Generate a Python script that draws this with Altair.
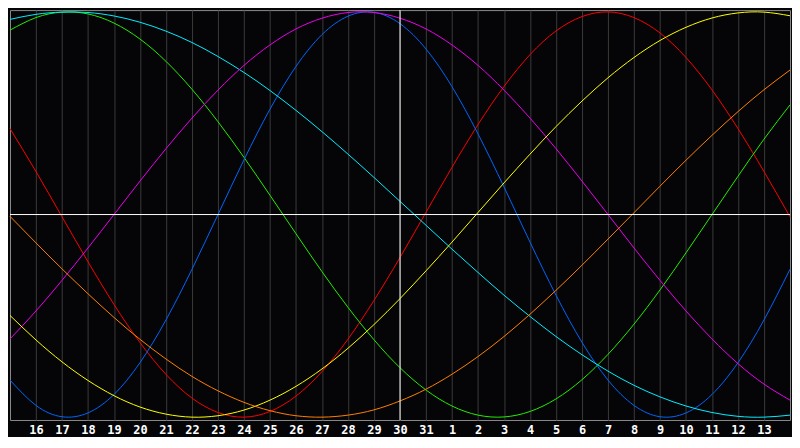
import pandas as pd
import altair as alt

# Day labels under the gridlines (day index 1..29)
day_labels = [16, 17, 18, 19, 20, 21, 22, 23, 24, 25, 26, 27, 28, 29, 30, 31,
              1, 2, 3, 4, 5, 6, 7, 8, 9, 10, 11, 12, 13]

# Day index 0..30 across the plot (day 15 .. day 14 of next month)
days = list(range(31))

# Curve values, one per day (-1 .. 1)
red = [0.424, 0.212, -0.011, -0.233, -0.444, -0.632, -0.789, -0.906, -0.977, -1.0,
       -0.972, -0.896, -0.775, -0.615, -0.424, -0.212, 0.011, 0.233, 0.444, 0.632,
       0.789, 0.906, 0.977, 1.0, 0.972, 0.896, 0.775, 0.615, 0.424, 0.212, -0.011]
green = [0.91, 0.972, 0.999, 0.99, 0.945, 0.866, 0.756, 0.618, 0.458, 0.282,
         0.095, -0.095, -0.282, -0.458, -0.618, -0.756, -0.866, -0.945, -0.99, -0.999,
         -0.972, -0.91, -0.815, -0.69, -0.541, -0.372, -0.189, 0.0, 0.189, 0.372, 0.541]
blue = [-0.817, -0.942, -0.998, -0.979, -0.888, -0.731, -0.52, -0.27, 0.0, 0.27,
        0.52, 0.731, 0.888, 0.979, 0.998, 0.942, 0.817, 0.631, 0.398, 0.136,
        -0.136, -0.398, -0.631, -0.817, -0.942, -0.998, -0.979, -0.888, -0.731, -0.52, -0.27]
cyan = [0.963, 0.988, 0.999, 0.997, 0.98, 0.949, 0.905, 0.849, 0.78, 0.701,
        0.612, 0.514, 0.409, 0.298, 0.183, 0.065, -0.053, -0.171, -0.286, -0.398,
        -0.503, -0.602, -0.692, -0.773, -0.843, -0.9, -0.945, -0.977, -0.996, -1.0, -0.99]
magenta = [-0.614, -0.476, -0.325, -0.165, 0.0, 0.165, 0.325, 0.476, 0.614, 0.736,
           0.837, 0.916, 0.969, 0.997, 0.997, 0.969, 0.916, 0.837, 0.736, 0.614,
           0.476, 0.325, 0.165, 0.0, -0.165, -0.325, -0.476, -0.614, -0.736, -0.837, -0.916]
yellow = [-0.498, -0.619, -0.727, -0.819, -0.894, -0.95, -0.985, -1.0, -0.993, -0.965,
          -0.916, -0.848, -0.762, -0.66, -0.543, -0.415, -0.278, -0.136, 0.01, 0.156,
          0.298, 0.434, 0.56, 0.675, 0.775, 0.859, 0.924, 0.97, 0.995, 0.999, 0.981]
orange = [-0.009, -0.14, -0.268, -0.391, -0.508, -0.616, -0.713, -0.799, -0.87, -0.927,
          -0.968, -0.993, -1.0, -0.99, -0.964, -0.92, -0.862, -0.788, -0.701, -0.602,
          -0.492, -0.374, -0.25, -0.121, 0.009, 0.14, 0.268, 0.391, 0.508, 0.616, 0.713]

series = {
    "red": red, "green": green, "blue": blue, "cyan": cyan,
    "magenta": magenta, "yellow": yellow, "orange": orange,
}
colors = ["#ff0000", "#22ee00", "#0066ff", "#00eeff", "#ee00ee", "#ffff00", "#ff8000"]

rows = []
for name, vals in series.items():
    for d, v in zip(days, vals):
        rows.append({"day": d, "value": v, "series": name})
df = pd.DataFrame(rows)

# tick label lookup: index 1..29 -> day number
label_expr = "''"
for i in range(len(day_labels), 0, -1):
    label_expr = f"datum.value == {i} ? '{day_labels[i - 1]}' : ({label_expr})"

x_scale = alt.Scale(domain=[0, 30], nice=False, zero=False)
y_scale = alt.Scale(domain=[-1.014, 1.009], nice=False, zero=False)

x_axis = alt.Axis(
    values=list(range(1, 30)),
    labelExpr=label_expr,
    title=None,
    ticks=False,
    domain=False,
    grid=True,
    gridColor="#3a3a3a",
    gridWidth=1,
    labelColor="#ffffff",
    labelFont="DejaVu Sans Mono",
    labelFontWeight="bold",
    labelFontSize=12,
    labelPadding=5,
    labelOverlap=False,
)

lines = alt.Chart(df).mark_line(strokeWidth=1, interpolate="natural").encode(
    x=alt.X("day:Q", scale=x_scale, axis=x_axis),
    y=alt.Y("value:Q", scale=y_scale, axis=None),
    color=alt.Color(
        "series:N",
        scale=alt.Scale(domain=list(series.keys()), range=colors),
        legend=None,
    ),
)

# white cross through the middle
zero_df = pd.DataFrame({"value": [0.0]})
hline = alt.Chart(zero_df).mark_rule(color="#ffffff", strokeWidth=1).encode(
    y=alt.Y("value:Q", scale=y_scale, axis=None)
)
mid_df = pd.DataFrame({"day": [15]})
vline = alt.Chart(mid_df).mark_rule(color="#ffffff", strokeWidth=1).encode(
    x=alt.X("day:Q", scale=x_scale, axis=x_axis)
)

chart = (
    alt.layer(lines, hline, vline)
    .properties(width=784, height=412, background="#050508", padding=0)
    .configure_view(fill="#050508", stroke="#8a8a8a", strokeWidth=1)
    .configure_axis(labelOverlap=False)
)

chart.save("out.html", embed_options={"renderer": "svg", "actions": False})
